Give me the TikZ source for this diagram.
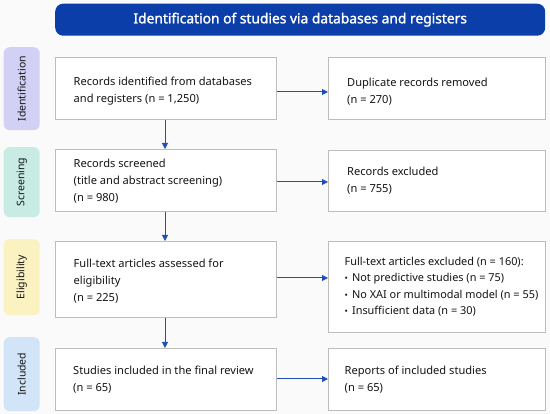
\documentclass[tikz,border=0pt]{standalone}
\usepackage{fontspec}
\setmainfont{Noto Sans}
\newfontfamily\titlefont{Noto Sans}[FakeBold=1.6]
\usetikzlibrary{arrows.meta}
\definecolor{banner}{HTML}{0B3EA8}
\definecolor{txt}{HTML}{141414}
\definecolor{boxline}{HTML}{BDBDBD}
\definecolor{arrowc}{HTML}{1F4FB8}
\definecolor{cIdent}{HTML}{D3D0F6}
\definecolor{cScreen}{HTML}{C8ECE4}
\definecolor{cElig}{HTML}{FBF2C2}
\definecolor{cIncl}{HTML}{D2E5F8}
\definecolor{bg}{HTML}{FAFAFA}
\tikzset{
  flowbox/.style={draw=boxline, line width=0.6pt, fill=white, anchor=north west,
    inner sep=0pt},
  boxtext/.style={anchor=west, align=left, inner sep=0pt, text=txt,
    font=\fontsize{11.1}{17}\selectfont},
  phasebox/.style={rounded corners=6pt, minimum width=36pt, anchor=north west, inner sep=0pt},
  phasetext/.style={rotate=90, text=txt, font=\fontsize{10.5}{12}\selectfont},
  flow/.style={draw=arrowc, line width=1pt, -{Triangle[length=6pt,width=6pt]}}
}
\begin{document}
\begin{tikzpicture}[x=1pt,y=-1pt]
\useasboundingbox[fill=bg] (0,0) rectangle (550,414);
% banner
\node[fill=banner, rounded corners=8pt, minimum width=490pt, minimum height=32pt,
  anchor=north west, text=white, font=\titlefont\fontsize{13.8}{16}\selectfont] (title) at (55,3.5)
  {Identification of studies via databases and registers};
% phase labels
\node[phasebox, fill=cIdent, minimum height=83pt] (pI) at (3.5,47) {};
\node[phasetext] (pIt) at (pI.center) {Identification};
\node[phasebox, fill=cScreen, minimum height=70pt] (pS) at (3.5,147) {};
\node[phasetext] (pSt) at (pS.center) {Screening};
\node[phasebox, fill=cElig, minimum height=76pt] (pE) at (3.5,239) {};
\node[phasetext] (pEt) at (pE.center) {Eligibility};
\node[phasebox, fill=cIncl, minimum height=74pt] (pC) at (3.5,337) {};
\node[phasetext] (pCt) at (pC.center) {Included};
% left boxes
\node[flowbox, minimum width=221pt, minimum height=62pt] (b1) at (55,57) {};
\node[boxtext] (b1t) at ([xshift=18.5pt,yshift=-3pt]b1.west)
  {Records identified from databases\\and registers (n = 1,250)};
\node[flowbox, minimum width=221pt, minimum height=62pt] (b2) at (55,149) {};
\node[boxtext] (b2t) at ([xshift=18.5pt,yshift=-1pt]b2.west)
  {Records screened\\(title and abstract screening)\\(n = 980)};
\node[flowbox, minimum width=221pt, minimum height=76pt] (b3) at (55,241) {};
\node[boxtext] (b3t) at ([xshift=18.5pt,yshift=-2pt]b3.west)
  {Full-text articles assessed for\\eligibility\\(n = 225)};
\node[flowbox, minimum width=221pt, minimum height=62pt] (b4) at (55,348) {};
\node[boxtext] (b4t) at ([xshift=18pt]b4.west)
  {Studies included in the final review\\(n = 65)};
% right boxes
\node[flowbox, minimum width=217pt, minimum height=62pt] (r1) at (328,57) {};
\node[boxtext] (r1t) at ([xshift=19pt,yshift=-3pt]r1.west)
  {Duplicate records removed\\(n = 270)};
\node[flowbox, minimum width=217pt, minimum height=61pt] (r2) at (328,150) {};
\node[boxtext] (r2t) at ([xshift=19pt]r2.west)
  {Records excluded\\(n = 755)};
\node[flowbox, minimum width=217pt, minimum height=91pt] (r3) at (328,241) {};
\node[boxtext, font=\fontsize{10.9}{16.5}\selectfont] (r3t) at ([xshift=16.5pt,yshift=0pt]r3.west)
  {Full-text articles excluded (n = 160):\\
   {\small\textbullet}\hspace{4pt}Not predictive studies (n = 75)\\
   {\small\textbullet}\hspace{4pt}No XAI or multimodal model (n = 55)\\
   {\small\textbullet}\hspace{4pt}Insufficient data (n = 30)};
\node[flowbox, minimum width=217pt, minimum height=62pt] (r4) at (328,348) {};
\node[boxtext] (r4t) at ([xshift=16.5pt]r4.west)
  {Reports of included studies\\(n = 65)};
% arrows
\draw[flow] (b1.south -| 165,0) -- (b2.north -| 165,0);
\draw[flow] (b2.south -| 165,0) -- (b3.north -| 165,0);
\draw[flow] (b3.south -| 165,0) -- (b4.north -| 165,0);
\draw[flow] (b1.east |- 0,92) -- (r1.west |- 0,92);
\draw[flow] (b2.east |- 0,182) -- (r2.west |- 0,182);
\draw[flow] (b3.east |- 0,278) -- (r3.west |- 0,278);
\draw[flow] (b4.east |- 0,379) -- (r4.west |- 0,379);
\end{tikzpicture}
\end{document}
